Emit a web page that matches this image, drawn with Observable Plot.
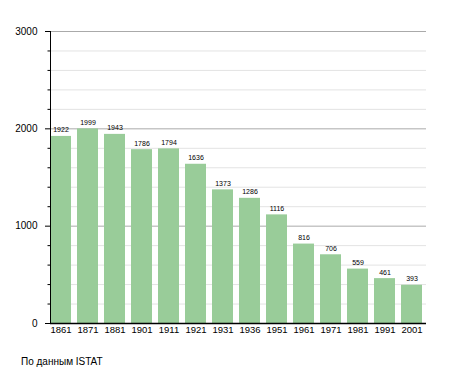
<!DOCTYPE html>
<html>
<head>
<meta charset="utf-8">
<script src="https://cdn.jsdelivr.net/npm/d3@7"></script>
<script src="https://cdn.jsdelivr.net/npm/@observablehq/plot@0.6"></script>
<style>
body { margin: 0; background: #fff; font-family: "Liberation Sans", Arial, sans-serif; }
#caption { margin: 16px 0 0 21px; font-size: 10px; line-height: 12px; color: #000; }
</style>
</head>
<body>
<div id="chart"></div>
<div id="caption">По данным ISTAT</div>
<script>
const years = ["1861","1871","1881","1901","1911","1921","1931","1936","1951","1961","1971","1981","1991","2001"];
const population = [1922,1999,1943,1786,1794,1636,1373,1286,1116,816,706,559,461,393];
const majorTicks = [0,1000,2000,3000];
const minorTicks = [200,400,600,800,1200,1400,1600,1800,2200,2400,2600,2800];

const data = years.map((y, i) => ({year: y, value: population[i]}));

const chart = Plot.plot({
  width: 455,
  height: 340,
  marginLeft: 50,
  marginRight: 29,
  marginTop: 31,
  marginBottom: 17,
  style: {fontFamily: "Liberation Sans, Arial, sans-serif", color: "#000", background: "#fff"},
  x: {domain: years, paddingInner: 0.24, paddingOuter: 0.02, align: 0, label: null},
  y: {domain: [0, 3000], label: null},
  marks: [
    Plot.ruleY(minorTicks, {stroke: "#e3e3e3", strokeWidth: 1}),
    Plot.ruleY(majorTicks.slice(1), {stroke: "#aaaaaa", strokeWidth: 1}),
    Plot.barY(data, {x: "year", y: "value", fill: "#99cc99"}),
    Plot.text(data, {x: "year", y: "value", text: d => String(d.value), lineAnchor: "bottom", dy: -4, fontSize: 7, fill: "#000"}),
    Plot.axisX({ticks: years, tickSize: 0, tickPadding: 3, fontSize: 9.5, label: null}),
    Plot.axisY({ticks: majorTicks, tickSize: 5, tickPadding: 8, fontSize: 10, label: null, tickFormat: d => String(d)}),
    Plot.axisY({ticks: minorTicks, tickSize: 2.5, tickFormat: null, label: null, text: null}),
    Plot.frame({anchor: "left", stroke: "#000"}),
    Plot.ruleY([0], {stroke: "#000", strokeWidth: 1.5})
  ]
});
document.getElementById("chart").appendChild(chart);
</script>
</body>
</html>
